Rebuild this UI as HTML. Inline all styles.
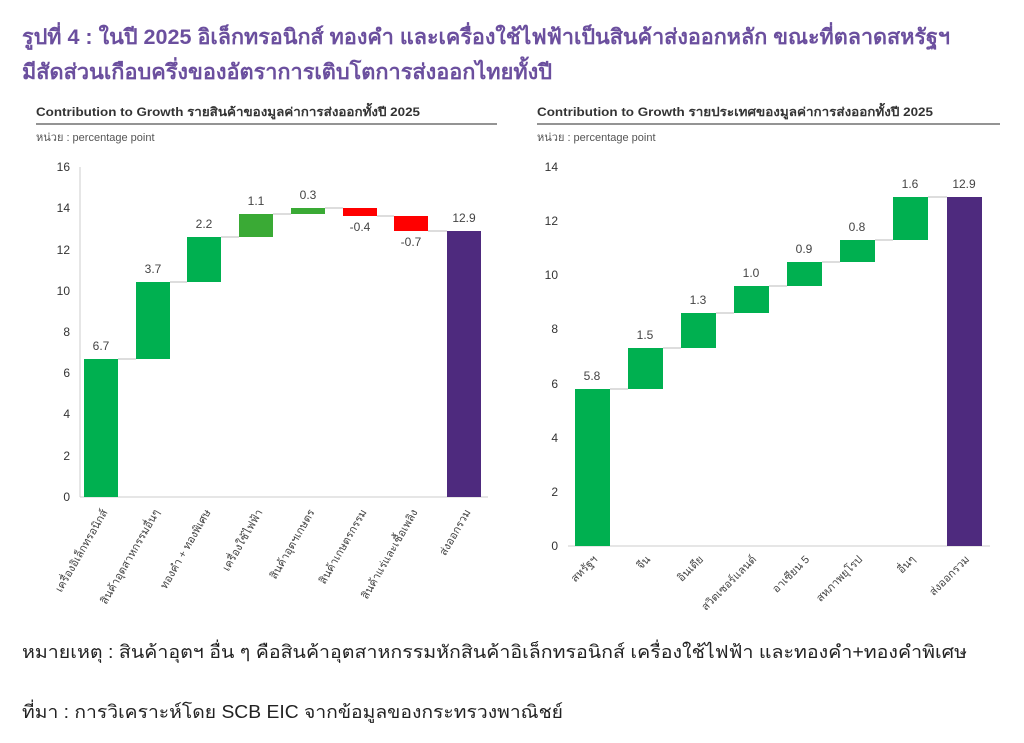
<!DOCTYPE html>
<html><head><meta charset="utf-8"><style>
html,body{margin:0;padding:0;background:#fff;width:1024px;height:743px;overflow:hidden}
svg text{font-family:"Liberation Sans","DejaVu Sans",sans-serif}
</style></head><body>
<svg width="1024" height="743" viewBox="0 0 1024 743" xmlns="http://www.w3.org/2000/svg">
<text x="22" y="44" font-size="21" font-weight="bold" fill="#6b4f9e" textLength="928" lengthAdjust="spacingAndGlyphs">รูปที่ 4 : ในปี 2025 อิเล็กทรอนิกส์ ทองคำ และเครื่องใช้ไฟฟ้าเป็นสินค้าส่งออกหลัก ขณะที่ตลาดสหรัฐฯ</text>
<text x="22" y="79" font-size="21" font-weight="bold" fill="#6b4f9e" textLength="530" lengthAdjust="spacingAndGlyphs">มีสัดส่วนเกือบครึ่งของอัตราการเติบโตการส่งออกไทยทั้งปี</text>

<!-- left chart -->
<text x="36" y="116" font-size="12" font-weight="bold" fill="#333" textLength="384" lengthAdjust="spacingAndGlyphs">Contribution to Growth รายสินค้าของมูลค่าการส่งออกทั้งปี 2025</text>
<line x1="36" y1="124" x2="497" y2="124" stroke="#555" stroke-width="1.2"/>
<text x="36" y="141" font-size="11" fill="#555">หน่วย : percentage point</text>
<g font-size="12" fill="#333" text-anchor="end">
<text x="70" y="501">0</text><text x="70" y="460">2</text><text x="70" y="418">4</text><text x="70" y="377">6</text><text x="70" y="336">8</text><text x="70" y="295">10</text><text x="70" y="254">12</text><text x="70" y="212">14</text><text x="70" y="171">16</text>
</g>
<line x1="80" y1="167" x2="80" y2="497" stroke="#ccc"/>
<line x1="80" y1="497" x2="488" y2="497" stroke="#ccc"/>
<g stroke="#bbb">
<line x1="118" y1="359" x2="136" y2="359"/><line x1="170" y1="282" x2="187" y2="282"/><line x1="221" y1="237" x2="239" y2="237"/><line x1="273" y1="214" x2="291" y2="214"/><line x1="325" y1="208" x2="343" y2="208"/><line x1="377" y1="216" x2="394" y2="216"/><line x1="428" y1="231" x2="447" y2="231"/>
</g>
<rect x="84" y="359" width="34" height="138" fill="#00b050"/>
<rect x="136" y="282" width="34" height="77" fill="#00b050"/>
<rect x="187" y="237" width="34" height="45" fill="#00b050"/>
<rect x="239" y="214" width="34" height="23" fill="#3aaa35"/>
<rect x="291" y="208" width="34" height="6" fill="#3aaa35"/>
<rect x="343" y="208" width="34" height="8" fill="#ff0000"/>
<rect x="394" y="216" width="34" height="15" fill="#ff0000"/>
<rect x="447" y="231" width="34" height="266" fill="#4e2a7e"/>
<g font-size="12" fill="#444" text-anchor="middle">
<text x="101" y="350">6.7</text><text x="153" y="273">3.7</text><text x="204" y="228">2.2</text><text x="256" y="205">1.1</text><text x="308" y="199">0.3</text><text x="360" y="231">-0.4</text><text x="411" y="246">-0.7</text><text x="464" y="222">12.9</text>
</g>
<g font-size="11" fill="#444" text-anchor="end">
<text transform="translate(108,512) rotate(-60)">เครื่องอิเล็กทรอนิกส์</text>
<text transform="translate(160,512) rotate(-60)">สินค้าอุตสาหกรรมอื่นๆ</text>
<text transform="translate(211,512) rotate(-60)">ทองคำ + ทองพิเศษ</text>
<text transform="translate(263,512) rotate(-60)">เครื่องใช้ไฟฟ้า</text>
<text transform="translate(315,512) rotate(-60)">สินค้าอุตฯเกษตร</text>
<text transform="translate(367,512) rotate(-60)">สินค้าเกษตรกรรม</text>
<text transform="translate(418,512) rotate(-60)">สินค้าแร่และเชื้อเพลิง</text>
<text transform="translate(471,512) rotate(-60)">ส่งออกรวม</text>
</g>

<!-- right chart -->
<text x="537" y="116" font-size="12" font-weight="bold" fill="#333" textLength="396" lengthAdjust="spacingAndGlyphs">Contribution to Growth รายประเทศของมูลค่าการส่งออกทั้งปี 2025</text>
<line x1="537" y1="124" x2="1000" y2="124" stroke="#555" stroke-width="1.2"/>
<text x="537" y="141" font-size="11" fill="#555">หน่วย : percentage point</text>
<g font-size="12" fill="#333" text-anchor="end">
<text x="558" y="550">0</text><text x="558" y="496">2</text><text x="558" y="442">4</text><text x="558" y="388">6</text><text x="558" y="333">8</text><text x="558" y="279">10</text><text x="558" y="225">12</text><text x="558" y="171">14</text>
</g>
<line x1="568" y1="546" x2="990" y2="546" stroke="#ccc"/>
<g stroke="#bbb">
<line x1="610" y1="389" x2="628" y2="389"/><line x1="663" y1="348" x2="681" y2="348"/><line x1="716" y1="313" x2="734" y2="313"/><line x1="769" y1="286" x2="787" y2="286"/><line x1="822" y1="262" x2="840" y2="262"/><line x1="875" y1="240" x2="893" y2="240"/><line x1="928" y1="197" x2="947" y2="197"/>
</g>
<rect x="575" y="389" width="35" height="157" fill="#00b050"/>
<rect x="628" y="348" width="35" height="41" fill="#00b050"/>
<rect x="681" y="313" width="35" height="35" fill="#00b050"/>
<rect x="734" y="286" width="35" height="27" fill="#00b050"/>
<rect x="787" y="262" width="35" height="24" fill="#00b050"/>
<rect x="840" y="240" width="35" height="22" fill="#00b050"/>
<rect x="893" y="197" width="35" height="43" fill="#00b050"/>
<rect x="947" y="197" width="35" height="349" fill="#4e2a7e"/>
<g font-size="12" fill="#444" text-anchor="middle">
<text x="592" y="380">5.8</text><text x="645" y="339">1.5</text><text x="698" y="304">1.3</text><text x="751" y="277">1.0</text><text x="804" y="253">0.9</text><text x="857" y="231">0.8</text><text x="910" y="188">1.6</text><text x="964" y="188">12.9</text>
</g>
<g font-size="11" fill="#444" text-anchor="end">
<text transform="translate(598,560) rotate(-45)">สหรัฐฯ</text>
<text transform="translate(651,560) rotate(-45)">จีน</text>
<text transform="translate(704,560) rotate(-45)">อินเดีย</text>
<text transform="translate(757,560) rotate(-45)">สวิตเซอร์แลนด์</text>
<text transform="translate(810,560) rotate(-45)">อาเซียน 5</text>
<text transform="translate(863,560) rotate(-45)">สหภาพยุโรป</text>
<text transform="translate(916,560) rotate(-45)">อื่นๆ</text>
<text transform="translate(970,560) rotate(-45)">ส่งออกรวม</text>
</g>

<text x="22" y="658" font-size="18" fill="#222" textLength="945" lengthAdjust="spacingAndGlyphs">หมายเหตุ : สินค้าอุตฯ อื่น ๆ คือสินค้าอุตสาหกรรมหักสินค้าอิเล็กทรอนิกส์ เครื่องใช้ไฟฟ้า และทองคำ+ทองคำพิเศษ</text>
<text x="22" y="718" font-size="18" fill="#222" textLength="541" lengthAdjust="spacingAndGlyphs">ที่มา : การวิเคราะห์โดย SCB EIC จากข้อมูลของกระทรวงพาณิชย์</text>
</svg>
</body></html>
